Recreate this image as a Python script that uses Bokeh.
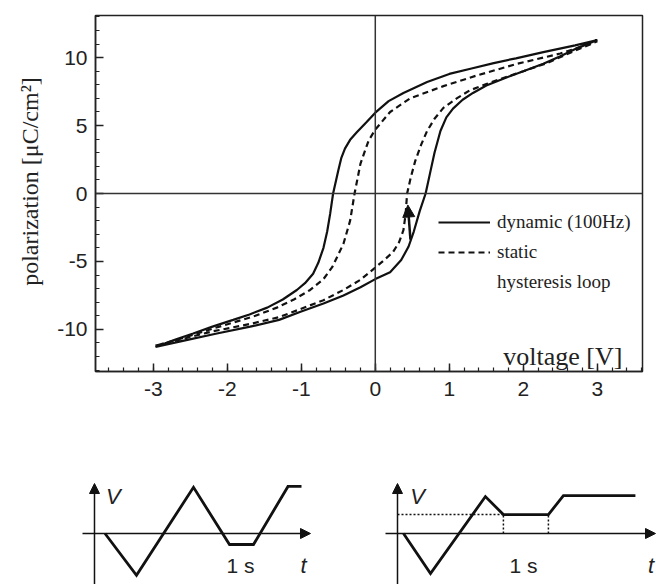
from bokeh.plotting import figure
from bokeh.models import (Range1d, FixedTicker, Span, Legend, LegendItem, Label,
                          Arrow, NormalHead)
from bokeh.layouts import column, row
from bokeh.embed import file_html
from bokeh.resources import INLINE

# ---------------- data: hysteresis loops (voltage [V], polarization [uC/cm2]) ----------------
# dynamic (100 Hz): ascending branch (-3 V -> +3 V)
dyn_up_v = [-2.97, -2.6, -2.14, -1.69, -1.3, -1.01, -0.7, -0.43, -0.2, 0.0, 0.2, 0.35, 0.45,
            0.52, 0.6, 0.68, 0.74, 0.8, 0.88, 0.96, 1.05, 1.18, 1.32, 1.5, 1.73, 2.0, 2.27,
            2.5, 2.73, 3.0]
dyn_up_p = [-11.3, -10.85, -10.3, -9.8, -9.3, -8.7, -8.1, -7.5, -6.9, -6.3, -5.8, -4.9, -3.9,
            -2.8, -1.3, 0.0, 1.5, 3.0, 4.6, 5.6, 6.25, 6.9, 7.4, 7.95, 8.45, 9.0, 9.55,
            10.1, 10.7, 11.3]
# dynamic (100 Hz): descending branch (+3 V -> -3 V)
dyn_down_v = [3.0, 2.7, 2.27, 1.9, 1.6, 1.3, 1.0, 0.7, 0.38, 0.18, 0.0, -0.12, -0.25, -0.34,
              -0.41, -0.46, -0.5, -0.57, -0.61, -0.65, -0.70, -0.77, -0.84, -0.95, -1.06,
              -1.25, -1.46, -1.7, -1.92, -2.2, -2.46, -2.7, -2.97]
dyn_down_p = [11.3, 10.9, 10.4, 9.95, 9.6, 9.2, 8.8, 8.2, 7.4, 6.8, 5.95, 5.25, 4.5, 3.95,
              3.3, 2.6, 1.7, 0.0, -1.5, -2.8, -4.0, -5.1, -5.9, -6.6, -7.1,
              -7.8, -8.4, -8.9, -9.3, -9.8, -10.3, -10.75, -11.3]
# static: ascending branch
stat_up_v = [-2.97, -2.6, -2.2, -1.69, -1.3, -1.01, -0.7, -0.43, -0.2, 0.0, 0.12, 0.24, 0.32,
             0.38, 0.41, 0.43, 0.48, 0.54, 0.62, 0.70, 0.8, 0.92, 1.1, 1.28, 1.5, 1.73, 2.0,
             2.32, 2.65, 3.0]
stat_up_p = [-11.2, -10.7, -10.15, -9.6, -9.1, -8.5, -7.85, -7.1, -6.35, -5.45, -4.9, -4.3, -3.6,
             -2.7, -1.5, 0.0, 1.2, 2.4, 3.6, 4.6, 5.5, 6.3, 7.0, 7.6, 8.05, 8.5, 9.0,
             9.6, 10.4, 11.2]
# static: descending branch
stat_down_v = [3.0, 2.5, 1.92, 1.38, 0.92, 0.47, 0.2, 0.0, -0.09, -0.2, -0.28, -0.34, -0.43,
               -0.58, -0.7, -0.88, -1.1, -1.33, -1.62, -1.92, -2.2, -2.46, -2.7, -2.97]
stat_down_p = [11.2, 10.3, 9.55, 8.7, 7.9, 7.0, 6.0, 4.7, 3.9, 2.2, 0.0, -2.0, -3.7,
               -5.4, -6.3, -7.1, -7.8, -8.4, -9.0, -9.5, -9.95, -10.4, -10.8, -11.2]

# direction arrow on the dynamic loop
arrow_v = [0.475, 0.44]
arrow_p = [-3.4, -0.85]

x_ticks = [-3, -2, -1, 0, 1, 2, 3]
x_tick_labels = ["-3", "-2", "-1", "0", "1", "2", "3"]
y_ticks = [-10, -5, 0, 5, 10]
y_tick_labels = ["-10", "-5", "0", "5", "10"]
x_minor = [round(-3.8 + 0.2 * i, 1) for i in range(38)]
y_minor = list(range(-13, 14))

legend_labels = ["dynamic (100Hz)", "static", "hysteresis loop"]

# ---------------- data: driving waveforms (schematic, t and V units) ----------------
wave1_t = [0.35, 1.4, 3.3, 4.5, 5.3, 6.45, 6.9]
wave1_v = [0.0, -0.95, 1.05, -0.25, -0.25, 1.07, 1.07]
wave2_t = [0.2, 1.1, 2.93, 3.53, 5.03, 5.53, 7.93]
wave2_v = [0.0, -0.91, 0.84, 0.43, 0.43, 0.86, 0.86]
hold_level = 0.43
hold_t = [3.53, 5.03]

INK = "#111111"
TXT = "#222222"

# ---------------- main figure ----------------
p = figure(width=656, height=466, x_range=Range1d(-3.78, 3.61), y_range=Range1d(-13.1, 13.1),
           output_backend="svg", toolbar_location=None,
           min_border_left=95, min_border_right=14, min_border_top=15, min_border_bottom=95)
p.grid.visible = False
p.background_fill_color = "white"
p.border_fill_color = "white"
p.outline_line_color = "#222222"
p.outline_line_width = 1.5

p.xaxis.ticker = FixedTicker(ticks=x_ticks, minor_ticks=x_minor)
p.yaxis.ticker = FixedTicker(ticks=y_ticks, minor_ticks=y_minor)
p.xaxis.major_label_overrides = {t: l for t, l in zip(x_ticks, x_tick_labels)}
p.yaxis.major_label_overrides = {t: l for t, l in zip(y_ticks, y_tick_labels)}
for ax in (p.xaxis[0], p.yaxis[0]):
    ax.major_tick_in = 8
    ax.major_tick_out = 0
    ax.minor_tick_in = 4
    ax.minor_tick_out = 0
    ax.major_tick_line_width = 1.5
    ax.minor_tick_line_width = 1.2
    ax.major_tick_line_color = "#222222"
    ax.minor_tick_line_color = "#222222"
    ax.axis_line_width = 1.5
    ax.axis_line_color = "#222222"
    ax.major_label_text_font = "Liberation Sans"
    ax.major_label_text_font_size = "21px"
    ax.major_label_text_color = TXT
p.xaxis.major_label_standoff = 10
p.yaxis.major_label_standoff = 8
# leading no-break spaces shift the centred label slightly upward, as in the reference
p.yaxis.axis_label = "\u00a0\u00a0\u00a0\u00a0polarization [\u03bcC/cm\u00b2]"
p.yaxis.axis_label_text_font = "Liberation Serif"
p.yaxis.axis_label_text_font_size = "24px"
p.yaxis.axis_label_text_font_style = "normal"
p.yaxis.axis_label_text_color = TXT
p.yaxis.axis_label_standoff = 11

p.add_layout(Span(location=0, dimension="width", line_color="#333333", line_width=1.5))
p.add_layout(Span(location=0, dimension="height", line_color="#333333", line_width=1.5))

r_dyn = p.line(dyn_up_v + dyn_down_v, dyn_up_p + dyn_down_p, line_color=INK, line_width=2.2)
r_stat = p.line(stat_up_v + stat_down_v, stat_up_p + stat_down_p, line_color=INK,
                line_width=2.2, line_dash="6 4")
r_note = p.line([], [], line_alpha=0)

p.add_layout(Arrow(end=NormalHead(size=12, fill_color=INK, line_color=INK),
                   x_start=arrow_v[0], y_start=arrow_p[0], x_end=arrow_v[1], y_end=arrow_p[1],
                   line_width=2.5, line_color=INK))

legend = Legend(items=[LegendItem(label=legend_labels[0], renderers=[r_dyn]),
                       LegendItem(label=legend_labels[1], renderers=[r_stat]),
                       LegendItem(label=legend_labels[2], renderers=[r_note])],
                location=(343, 78), padding=0, margin=0, spacing=8,
                glyph_width=52, glyph_height=22, label_height=22, label_standoff=7,
                label_text_font="Liberation Serif", label_text_font_size="19px",
                label_text_color=TXT, border_line_alpha=0, background_fill_alpha=0)
p.add_layout(legend)

p.add_layout(Label(x=1.73, y=-12.0, text="voltage [V]", text_font="Liberation Serif",
                   text_font_size="26px", text_color=TXT, text_baseline="alphabetic"))


# ---------------- waveform panels ----------------
def wave_panel(x0, x1, wt, wv, axis_end, t_label_x, v_label_x, s_label_x):
    q = figure(width=328, height=118, x_range=Range1d(x0, x1), y_range=Range1d(-1.159, 1.523),
               output_backend="svg", toolbar_location=None, min_border=0,
               x_axis_location=None, y_axis_location=None)
    q.grid.visible = False
    q.outline_line_color = None
    q.background_fill_color = "white"
    q.border_fill_color = "white"
    q.add_layout(Arrow(end=NormalHead(size=10, fill_color=INK, line_color=INK),
                       x_start=-0.4, y_start=0, x_end=axis_end, y_end=0,
                       line_width=1.5, line_color=INK))
    q.add_layout(Arrow(end=NormalHead(size=10, fill_color=INK, line_color=INK),
                       x_start=0, y_start=-1.159, x_end=0, y_end=1.136,
                       line_width=1.5, line_color=INK))
    q.line(wt, wv, line_color=INK, line_width=2.8, line_join="miter")
    q.add_layout(Label(x=v_label_x, y=0.84, text="V", text_font="Liberation Sans",
                       text_font_style="italic", text_font_size="22px", text_color=TXT,
                       text_align="center", text_baseline="middle"))
    q.add_layout(Label(x=s_label_x, y=-0.73, text="1 s", text_font="Liberation Sans",
                       text_font_size="21px", text_color=TXT,
                       text_align="center", text_baseline="middle"))
    q.add_layout(Label(x=t_label_x, y=-0.73, text="t", text_font="Liberation Sans",
                       text_font_style="italic", text_font_size="22px", text_color=TXT,
                       text_align="center", text_baseline="middle"))
    return q


q1 = wave_panel(-3.133, 7.8, wave1_t, wave1_v, 7.2, 6.97, 0.63, 4.87)
q2 = wave_panel(-2.3, 8.633, wave2_t, wave2_v, 8.6, 8.45, 0.67, 4.2)
q2.line([0, hold_t[0]], [hold_level, hold_level], line_color=INK, line_width=1.5,
        line_dash="2 2")
q2.multi_line([[hold_t[0], hold_t[0]], [hold_t[1], hold_t[1]]],
              [[0, hold_level], [0, hold_level]], line_color=INK, line_width=1.5,
              line_dash="2 2")

layout = column(p, row(q1, q2))
open("out.html", "w").write(file_html(layout, INLINE))
